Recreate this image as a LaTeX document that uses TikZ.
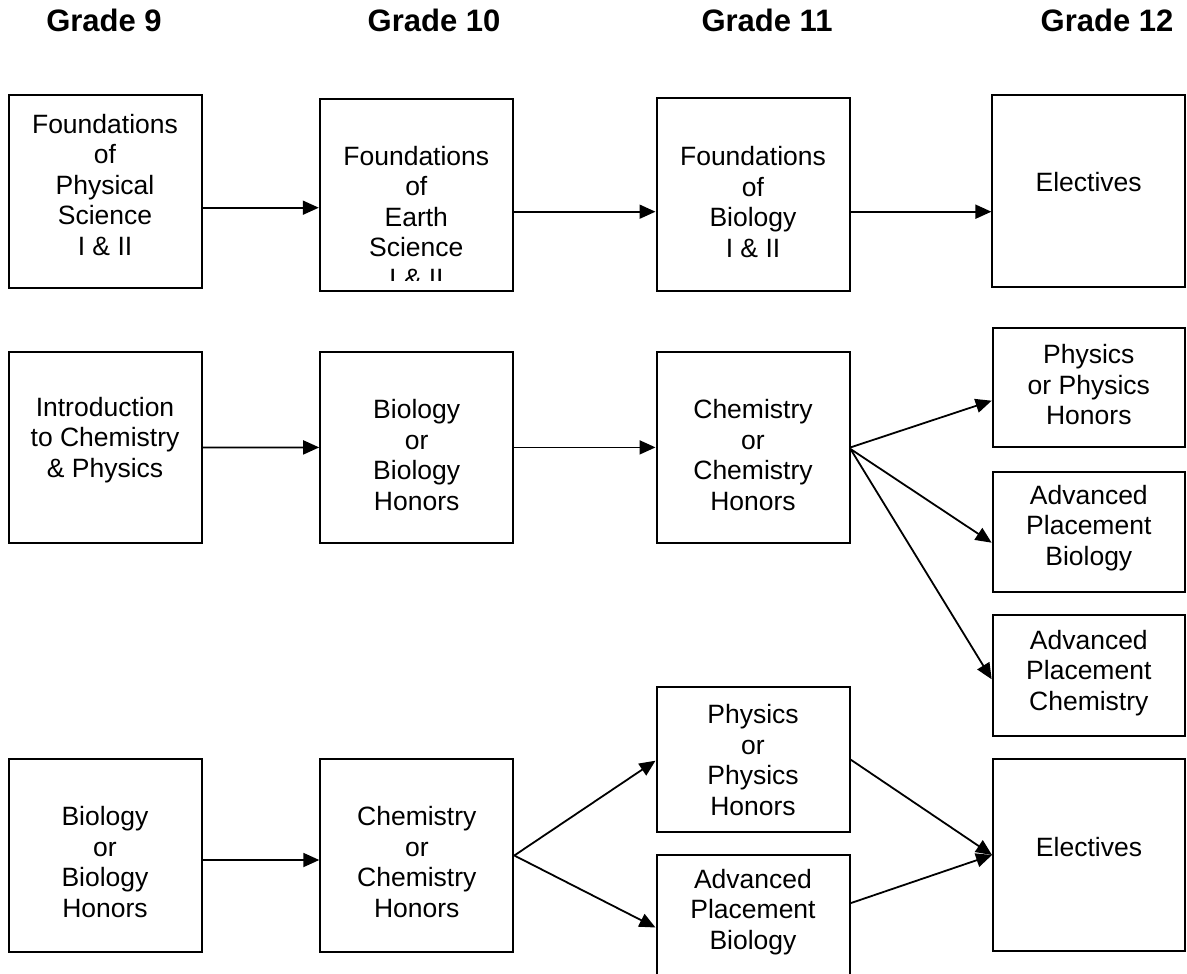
\documentclass[tikz,border=0pt]{standalone}
\usepackage{fontspec}
\setmainfont{Liberation Sans}
\usetikzlibrary{arrows.meta,calc}
\begin{document}
\begin{tikzpicture}[x=1pt,y=-1pt,
  box/.style={draw,line width=2pt,inner sep=0pt,minimum width=193pt},
  boxtext/.style={align=center,font=\fontsize{26.5}{30.5}\selectfont,inner sep=0pt},
  hdr/.style={font=\fontsize{31}{36}\selectfont\bfseries,anchor=base,inner sep=0pt},
  conn/.style={line width=1.8pt,-{Triangle[length=16pt,width=14pt]}}]
\useasboundingbox (0,0) rectangle (1187,974);
\fill[white] (0,0) rectangle (1187,974);
\clip (0,0) rectangle (1187,974);

% headers
\node[hdr] (g9)  at (104,31.7)  {Grade 9};
\node[hdr] (g10) at (434,31.7)  {Grade 10};
\node[hdr] (g11) at (767,31.7)  {Grade 11};
\node[hdr] (g12) at (1107,31.7) {Grade 12};

% row 1
\node[box,minimum height=193pt] (A) at (105,191.5) {};
\node[box,minimum height=192pt] (B) at (416.3,195) {};
\node[box,minimum height=192.4pt] (C) at (753,194.5) {};
\node[box,minimum height=192.3pt,minimum width=192.6pt] (D) at (1088.7,191) {};
\node[boxtext] (At) at (105,185) {Foundations\\of\\Physical\\Science\\I \& II};
\begin{scope}
\clip (310,100) rectangle (520,280.5);
\node[boxtext] (Bt) at (416.3,217) {Foundations\\of\\Earth\\Science\\I \& II};
\end{scope}
\node[boxtext] (Ct) at (753,202) {Foundations\\of\\Biology\\I \& II};
\node[boxtext] (Dt) at (1088.7,181.7) {Electives};

% row 2
\node[box,minimum height=191.6pt] (E) at (105,447.5) {};
\node[box,minimum height=191.6pt] (F) at (416.7,447.4) {};
\node[box,minimum height=191.6pt] (G) at (753,447.4) {};
\node[box,minimum height=119pt,minimum width=192.3pt] (H) at (1088.8,387.2) {};
\node[box,minimum height=120pt,minimum width=192.3pt] (I) at (1088.8,532) {};
\node[box,minimum height=121pt,minimum width=192.3pt] (J) at (1088.8,675.5) {};
\node[boxtext] (Et) at (105,440) {Introduction\\to Chemistry\\\& Physics};
\node[boxtext] (Ft) at (416.7,455) {Biology\\or\\Biology\\Honors};
\node[boxtext] (Gt) at (753,455) {Chemistry\\or\\Chemistry\\Honors};
\node[boxtext] (Ht) at (1088.8,385) {Physics\\or Physics\\Honors};
\node[boxtext] (It) at (1088.8,528) {Advanced\\Placement\\Biology};
\node[boxtext] (Jt) at (1088.8,673) {Advanced\\Placement\\Chemistry};

% row 3
\node[box,minimum height=193pt] (K) at (105,855.5) {};
\node[box,minimum height=193pt] (L) at (416.8,855.5) {};
\node[box,minimum height=145pt] (M) at (753,759.5) {};
\node[box,minimum height=145pt] (N) at (753,927.5) {};
\node[box,minimum height=192pt,minimum width=192pt] (O) at (1089,855) {};
\node[boxtext] (Kt) at (105,862) {Biology\\or\\Biology\\Honors};
\node[boxtext] (Lt) at (416.8,862) {Chemistry\\or\\Chemistry\\Honors};
\node[boxtext] (Mt) at (753,760) {Physics\\or\\Physics\\Honors};
\node[boxtext] (Nt) at (753,912) {Advanced\\Placement\\Biology};
\node[boxtext] (Ot) at (1089,847) {Electives};

% connectors
\draw[conn] ([yshift=-16.2pt]A.east) -- ([yshift=-12.7pt]B.west);
\draw[conn] ([yshift=-16.7pt]B.east) -- ([yshift=-17.2pt]C.west);
\draw[conn] ([yshift=-17.2pt]C.east) -- ([yshift=-20.7pt]D.west);
\draw[conn] (E.east) -- (F.west);
\draw[conn] (F.east) -- (G.west);
\draw[conn] (G.east) -- ([yshift=-13.5pt]H.west);
\draw[conn] ([yshift=-1.6pt]G.east) -- ([yshift=-10.7pt]I.west);
\draw[conn] ([yshift=-1.6pt]G.east) -- ([yshift=-3.8pt]J.west);
\draw[conn] ([yshift=-4.5pt]K.east) -- ([yshift=-4.5pt]L.west);
\draw[conn] (L.east) -- ([yshift=-1.2pt]M.west);
\draw[conn] (L.east) -- (N.west);
\draw[conn] (M.east) -- (O.west);
\draw[conn] ([yshift=24.3pt]N.east) -- (O.west);
\end{tikzpicture}
\end{document}
